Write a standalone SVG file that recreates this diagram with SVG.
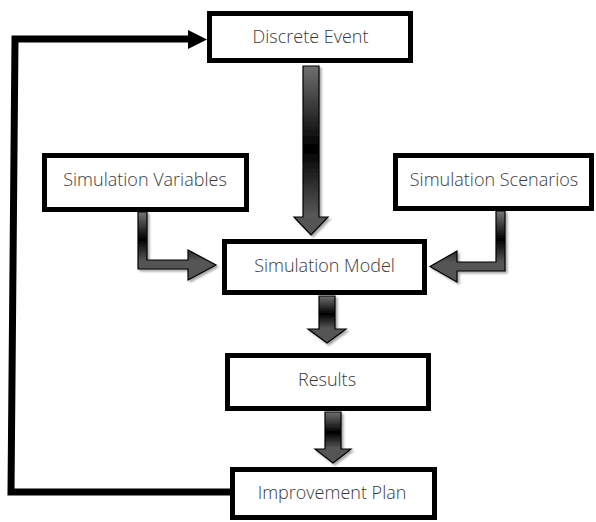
<svg xmlns="http://www.w3.org/2000/svg" width="596" height="522" viewBox="0 0 596 522">
  <style>
    .box { fill: #ffffff; stroke: #000000; stroke-width: 5; }
    .label { font-family: "Open Sans", "Noto Sans", "Liberation Sans", sans-serif; font-size: 18px; font-weight: 300; fill: #3a3a3a; text-anchor: middle; }
    .shaft { fill: url(#shaftGrad); }
    .head { fill: #555555; }
    .outline { fill: none; stroke: #000000; stroke-width: 1.2; stroke-linejoin: miter; }
    .loop { fill: none; stroke: #000000; stroke-width: 7; stroke-linejoin: miter; }
  </style>
  <defs>
    <linearGradient id="shaftGrad" x1="0" y1="0" x2="0" y2="1">
      <stop offset="0" stop-color="#707070"/>
      <stop offset="0.55" stop-color="#000000"/>
      <stop offset="1" stop-color="#5a5a5a"/>
    </linearGradient>
    <linearGradient id="elbowGrad" x1="0" y1="0" x2="0" y2="1">
      <stop offset="0" stop-color="#777777"/>
      <stop offset="0.4" stop-color="#000000"/>
      <stop offset="0.72" stop-color="#555555"/>
      <stop offset="1" stop-color="#555555"/>
    </linearGradient>
    <filter id="shadow" x="-20%" y="-20%" width="150%" height="150%">
      <feDropShadow dx="2" dy="2" stdDeviation="1.2" flood-color="#000000" flood-opacity="0.35"/>
    </filter>
  </defs>

  <!-- connectors -->
  <g id="connectors">
    <!-- feedback loop: Improvement Plan back to Discrete Event -->
    <polyline class="loop" points="232,492 11,492 15,39 190,39"/>
    <polygon points="188,30 207,39.5 188,49" fill="#000000"/>

    <!-- Discrete Event -> Simulation Model -->
    <g filter="url(#shadow)">
      <rect class="shaft" x="303" y="66" width="16" height="151"/>
      <polygon class="head" points="294,217 328,217 311,235"/>
      <path class="outline" d="M303,66 H319 V217 H328 L311,235 L294,217 H303 Z"/>
    </g>

    <!-- Simulation Variables -> Simulation Model -->
    <g filter="url(#shadow)">
      <path d="M138,212 H147 V260 H188 V250 L216,265 L188,280 V269 H138 Z" fill="url(#elbowGrad)" stroke="#000000" stroke-width="1.2"/>
    </g>

    <!-- Simulation Scenarios -> Simulation Model -->
    <g filter="url(#shadow)">
      <path d="M496,211 H505 V271 H457 V282 L430,266.5 L457,251 V262 H496 Z" fill="url(#elbowGrad)" stroke="#000000" stroke-width="1.2"/>
    </g>

    <!-- Simulation Model -> Results -->
    <g filter="url(#shadow)">
      <rect class="shaft" x="319" y="296" width="16" height="33"/>
      <polygon class="head" points="308,329 346,329 327,343"/>
      <path class="outline" d="M319,296 H335 V329 H346 L327,343 L308,329 H319 Z"/>
    </g>

    <!-- Results -> Improvement Plan -->
    <g filter="url(#shadow)">
      <rect class="shaft" x="325" y="412" width="16" height="37"/>
      <polygon class="head" points="315,449 351,449 333,463"/>
      <path class="outline" d="M325,412 H341 V449 H351 L333,463 L315,449 H325 Z"/>
    </g>
  </g>

  <!-- nodes -->
  <g id="discrete-event">
    <rect class="box" x="209.5" y="13.5" width="201" height="47"/>
    <text class="label" x="310.5" y="43">Discrete Event</text>
  </g>
  <g id="simulation-variables">
    <rect class="box" x="44.5" y="155.5" width="202" height="54"/>
    <text class="label" x="145" y="186">Simulation Variables</text>
  </g>
  <g id="simulation-scenarios">
    <rect class="box" x="395.5" y="155.5" width="196" height="53"/>
    <text class="label" x="494" y="186">Simulation Scenarios</text>
  </g>
  <g id="simulation-model">
    <rect class="box" x="224.5" y="241.5" width="200" height="51"/>
    <text class="label" x="324.5" y="272">Simulation Model</text>
  </g>
  <g id="results">
    <rect class="box" x="227.5" y="355.5" width="201" height="53"/>
    <text class="label" x="327" y="386">Results</text>
  </g>
  <g id="improvement-plan">
    <rect class="box" x="232.5" y="469.5" width="202" height="48"/>
    <text class="label" x="332" y="499">Improvement Plan</text>
  </g>
</svg>
